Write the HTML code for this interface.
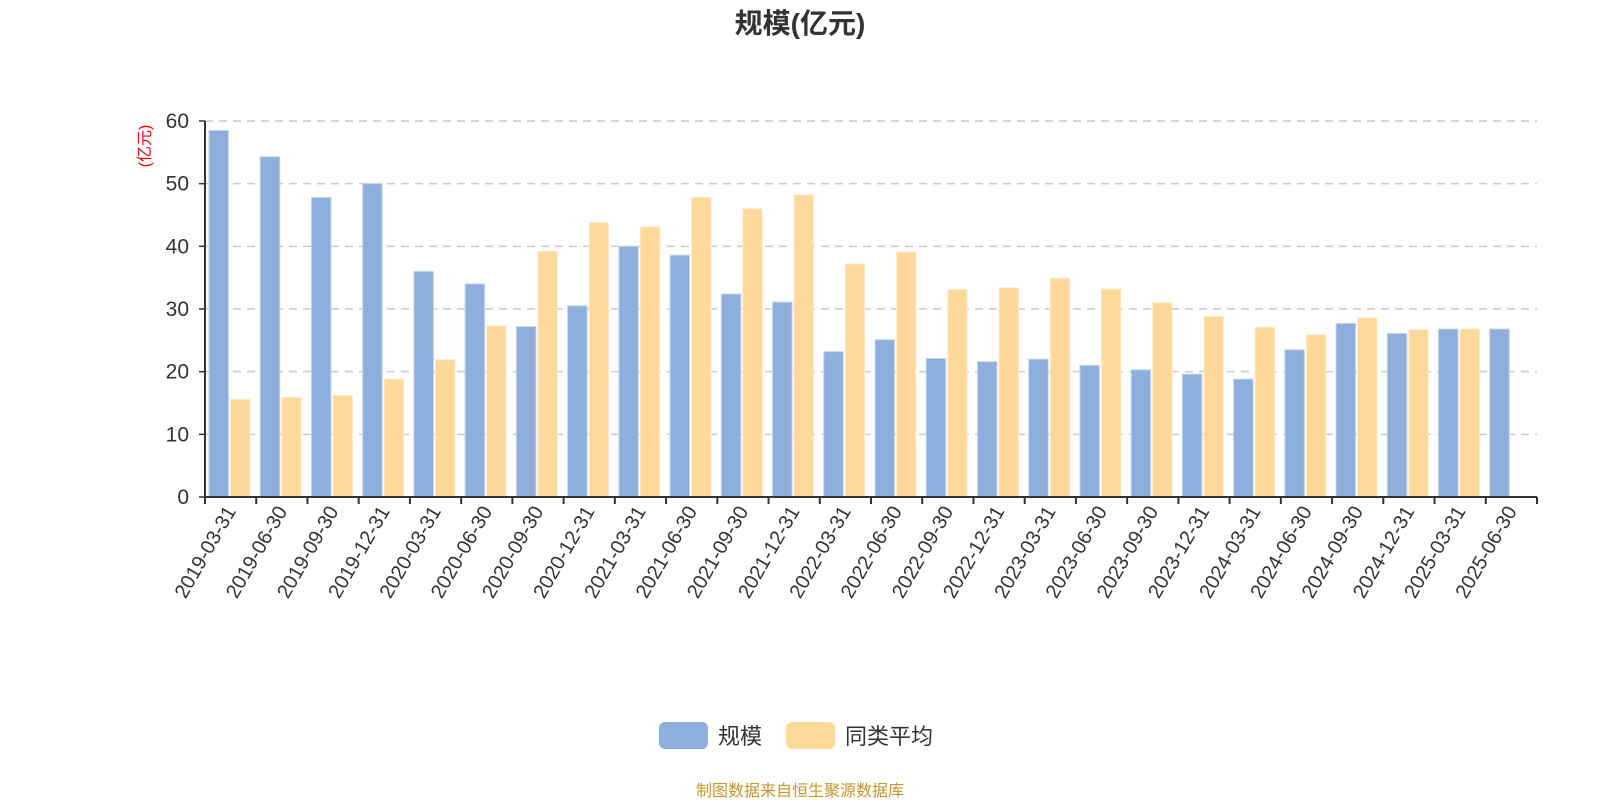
<!DOCTYPE html>
<html><head><meta charset="utf-8"><style>
body{margin:0;background:#fff;width:1600px;height:800px;overflow:hidden}
text{font-family:"Liberation Sans","Noto Sans CJK SC",sans-serif}
</style></head><body>
<svg id="c" width="1600" height="800" xmlns="http://www.w3.org/2000/svg">
<text x="800" y="33" text-anchor="middle" font-size="28" font-weight="bold" fill="#333">规模(亿元)</text>
<text transform="translate(150,146) rotate(-90)" text-anchor="middle" font-size="16" fill="#e00">(亿元)</text>
<g id="grid"></g><g id="bars"></g><g id="axes"></g>
<g>
<rect x="659" y="722" width="49" height="27" rx="6" fill="#8eaedb"/>
<text x="718" y="744" font-size="22" fill="#333">规模</text>
<rect x="786" y="722" width="49" height="27" rx="6" fill="#ffd99a"/>
<text x="845" y="744" font-size="22" fill="#333">同类平均</text>
</g>
<text x="800" y="796" text-anchor="middle" font-size="16" fill="#c8962a">制图数据来自恒生聚源数据库</text>
</svg>
<script>
const categories=["2019-03-31","2019-06-30","2019-09-30","2019-12-31","2020-03-31","2020-06-30","2020-09-30","2020-12-31","2021-03-31","2021-06-30","2021-09-30","2021-12-31","2022-03-31","2022-06-30","2022-09-30","2022-12-31","2023-03-31","2023-06-30","2023-09-30","2023-12-31","2024-03-31","2024-06-30","2024-09-30","2024-12-31","2025-03-31","2025-06-30"];
const scaleValues=[58.5,54.3,47.8,50.0,36.0,34.0,27.2,30.5,40.0,38.6,32.4,31.1,23.2,25.1,22.1,21.6,22.0,21.0,20.3,19.6,18.8,23.5,27.7,26.1,26.8,26.8];
const avgValues=[15.6,15.9,16.2,18.8,21.9,27.3,39.2,43.8,43.1,47.8,46.0,48.2,37.2,39.1,33.1,33.4,34.9,33.2,31.0,28.8,27.1,25.9,28.6,26.7,26.8,null];
const yTicks=[0,10,20,30,40,50,60];
const NS="http://www.w3.org/2000/svg";
const L=205,R=1537,T=121,B=497,ymax=60;
const bw=(R-L)/categories.length;
const y=v=>B-(v/ymax)*(B-T);
const x=i=>L+i*bw;
function mk(tag,attrs,parent){const e=document.createElementNS(NS,tag);for(const k in attrs)e.setAttribute(k,attrs[k]);document.getElementById(parent).appendChild(e);return e;}
yTicks.forEach(t=>{
  if(t>0){const g=mk('line',{x1:L,x2:R,y1:y(t),y2:y(t),stroke:'#ccc','stroke-dasharray':'8,6','stroke-width':1.5},'grid');
  
  }
  const tl=mk('text',{x:L-16,y:y(t)+7,'text-anchor':'end','font-size':21,fill:'#333'},'axes');tl.textContent=t;
  
  
  const tk=mk('line',{x1:L-6,x2:L,y1:y(t),y2:y(t),stroke:'#333','stroke-width':1.5},'axes');
  
  
});
const w=19.5;
categories.forEach((c,i)=>{
  const b=mk('rect',{x:x(i)+4,y:y(scaleValues[i]),width:w,height:B-y(scaleValues[i]),fill:'#8eaedb',stroke:'#c5d5ee','stroke-width':1},'bars');
  
  
  if(avgValues[i]!=null){
    const a=mk('rect',{x:x(i)+4+w+2,y:y(avgValues[i]),width:w,height:B-y(avgValues[i]),fill:'#ffd99a',stroke:'#ffeccc','stroke-width':1},'bars');
    
    
  }
  const tk=mk('line',{x1:x(i),x2:x(i),y1:B,y2:B+7,stroke:'#333','stroke-width':2},'axes');
  
  
  const cx=x(i)+bw/2;
  const tl=mk('text',{transform:`translate(${cx+6},${B+14}) rotate(-60)`,'text-anchor':'end','font-size':20,fill:'#333'},'axes');tl.textContent=c;
  
  
});
const lt=mk('line',{x1:R,x2:R,y1:B,y2:B+7,stroke:'#333','stroke-width':2},'axes');


const xa=mk('line',{x1:L,x2:R,y1:B,y2:B,stroke:'#333','stroke-width':2},'axes');


const ya=mk('line',{x1:L,x2:L,y1:T,y2:B,stroke:'#333','stroke-width':2},'axes');


</script>
</body></html>
